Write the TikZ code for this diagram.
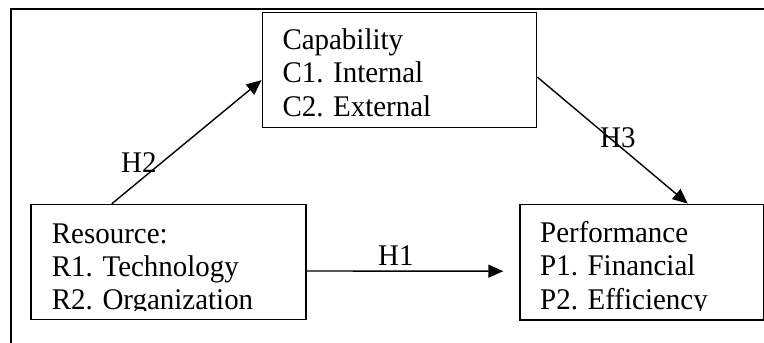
\documentclass[tikz,border=0pt]{standalone}
\usepackage{fontspec}
\setmainfont{Liberation Serif}[FakeStretch=0.965]
\usetikzlibrary{arrows.meta,calc}
\tikzset{
  box/.style={draw, line width=1.5pt, rectangle, inner sep=0pt},
  txt/.style={anchor=base west, inner sep=0pt, font=\fontsize{30}{33}\selectfont},
  lbl/.style={anchor=base west, inner sep=0pt, font=\fontsize{30}{33}\selectfont},
  arr/.style={line width=1.4pt, -{Triangle[length=15pt,width=13pt]}},
  frame/.style={line width=1.6pt}
}
\begin{document}
\begin{tikzpicture}[x=1pt,y=-1pt]
\useasboundingbox (0,0) rectangle (764,343);
% outer frame (top and left only)
\coordinate (ftr) at (764,9);
\coordinate (ftl) at (11,9);
\coordinate (fbl) at (11,343);
\draw[frame] (ftr) -- (ftl) -- (fbl);
% boxes
\node[box, minimum width=275pt, minimum height=115pt] (res) at (168.5,262) {};
\node[box, minimum width=274.4pt, minimum height=115pt] (cap) at (399.5,70.2) {};
\node[box, minimum width=243.3pt, minimum height=115.7pt] (perf) at (641.7,262.2) {};
% texts
\node[txt] (c1) at (282.3,49.3) {Capability};
\node[txt] (c2) at (282.3,82.7) {C1. Internal};
\node[txt] (c3) at (282.3,116.2) {C2. External};
\begin{scope}
\clip (25,205) rectangle (764,310.8);
\node[txt] (r1) at (51.7,243) {Resource:};
\node[txt] (r2) at (51.7,276.5) {R1. Technology};
\node[txt] (r3) at (51.7,309.8) {R2. Organization};
\node[txt] (p1) at (540,242) {Performance};
\node[txt] (p2) at (540,275.7) {P1. Financial};
\node[txt] (p3) at (540,309.2) {P2. Efficiency};
\end{scope}
% arrows
\draw[arr] ($(res.north west)!0.295!(res.north east)$) -- ($(cap.north west)!0.585!(cap.south west)$);
\draw[arr] ($(cap.north east)!0.56!(cap.south east)$) -- ($(perf.north west)!0.688!(perf.north east)$);
\draw[arr] ($(res.east)+(0,9)$) -- ($(perf.west)+(-16,9)$);
% labels
\node[lbl] (h2) at (121,172) {H2};
\node[lbl] (h3) at (600,147) {H3};
\node[lbl] (h1) at (378,265) {H1};
\end{tikzpicture}
\end{document}
